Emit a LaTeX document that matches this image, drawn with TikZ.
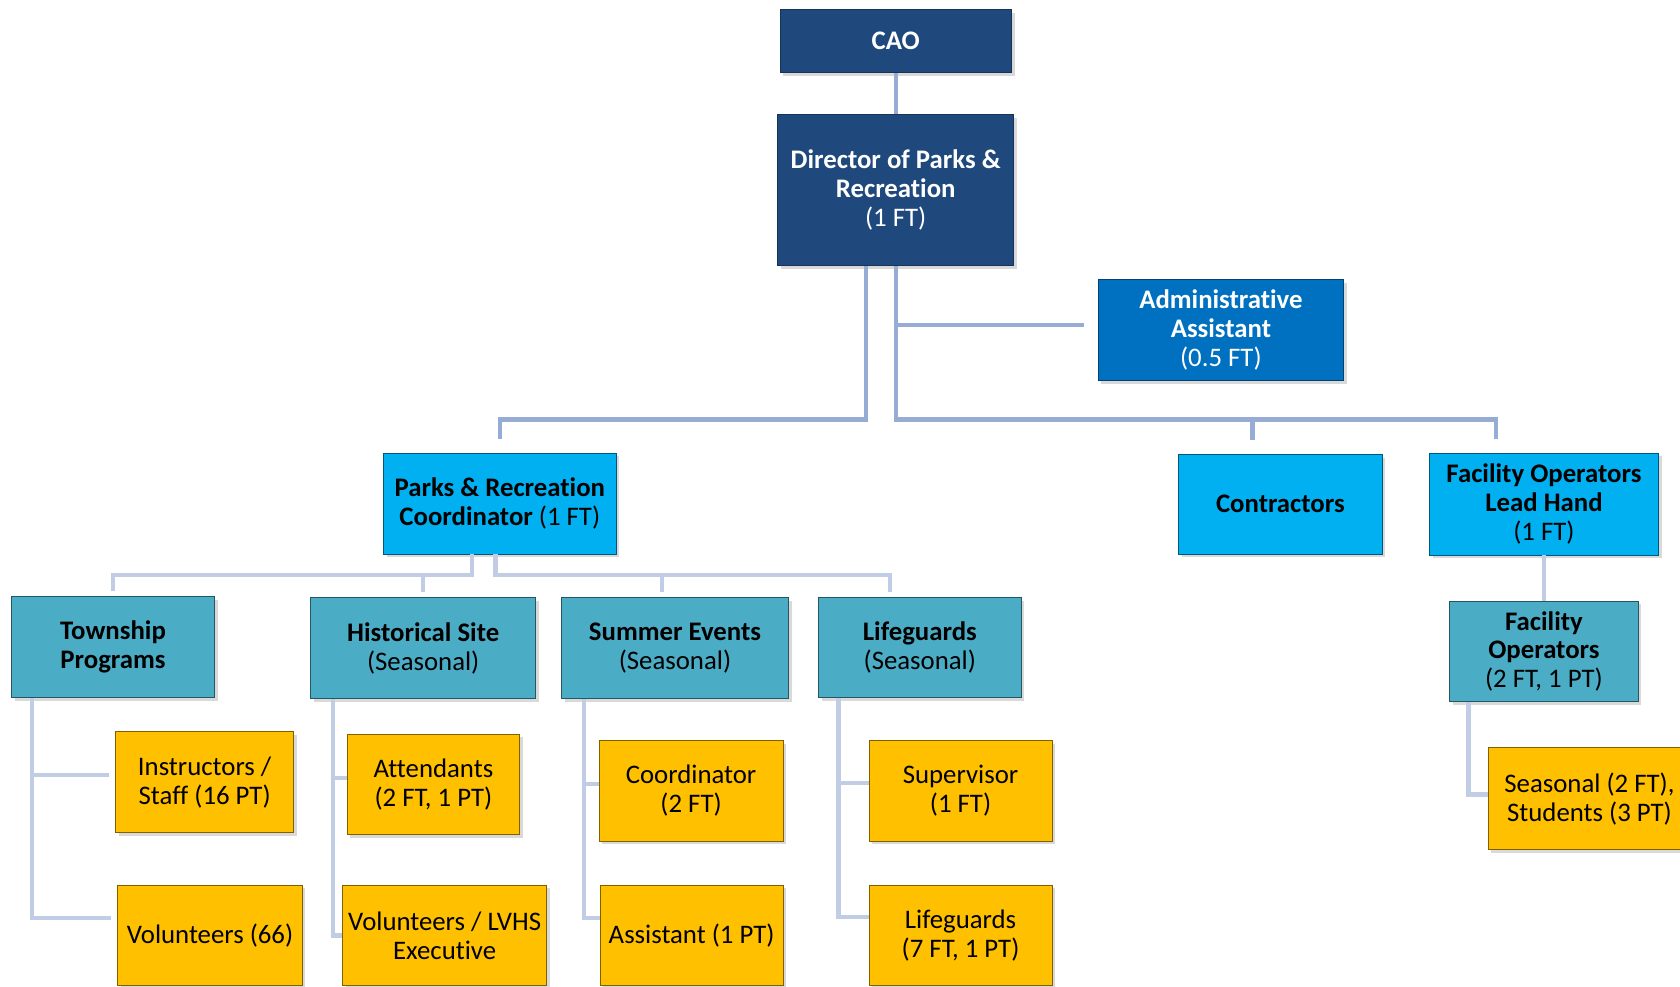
\documentclass[tikz,border=0pt]{standalone}
\usepackage{fontspec}
\setmainfont{Carlito}[Ligatures=NoCommon]
\usetikzlibrary{shadows}

\definecolor{navy}{RGB}{31,73,125}
\definecolor{adminblue}{RGB}{0,112,192}
\definecolor{skyblue}{RGB}{0,176,240}
\definecolor{teal}{RGB}{75,172,198}
\definecolor{gold}{RGB}{255,192,0}
\definecolor{linetop}{RGB}{150,172,212}
\definecolor{linelow}{RGB}{192,205,228}

\begin{document}
\begin{tikzpicture}[x=1pt, y=-1pt,
    box/.style={rectangle, inner sep=0pt, align=center, line width=0.8pt,
      drop shadow={opacity=0.3, shadow xshift=3pt, shadow yshift=-3pt}},
    headbox/.style={box, fill=navy, draw=navy!70!black, text=white},
    adminbox/.style={box, fill=adminblue, draw=adminblue!60!black, text=white},
    leadbox/.style={box, fill=skyblue, draw=skyblue!50!black},
    unitbox/.style={box, fill=teal, draw=teal!50!black},
    staffbox/.style={box, fill=gold, draw=gold!50!black},
    topline/.style={draw=linetop, line width=4pt},
    lowline/.style={draw=linelow, line width=4pt}]
    \fontsize{25}{27}\selectfont
    \useasboundingbox (0,0) rectangle (1568,921);

    % top of the chart
    \node (cao) at (836,38.5) [headbox, minimum width=216pt, minimum height=59pt] {\textbf{CAO}};
    \node (director) at (836,177.5) [headbox, minimum width=220pt, minimum height=141pt] {\textbf{Director of Parks \&}\\\textbf{Recreation}\\(1 FT)};
    \node (admin) at (1139.5,308) [adminbox, minimum width=229pt, minimum height=94pt] {\textbf{Administrative}\\\textbf{Assistant}\\(0.5 FT)};

    % second level
    \node (coordinator) at (466.5,470) [leadbox, minimum width=217pt, minimum height=94pt] {\textbf{Parks \& Recreation}\\\textbf{Coordinator} (1 FT)};
    \node (contractors) at (1195,470.5) [leadbox, minimum width=190pt, minimum height=93pt] {\textbf{Contractors}};
    \node (leadhand) at (1441,470.5) [leadbox, minimum width=214pt, minimum height=95pt] {\textbf{Facility Operators}\\\textbf{Lead Hand}\\(1 FT)};

    % units
    \node (township) at (105.5,604) [unitbox, minimum width=189pt, minimum height=94pt] {\textbf{Township}\\\textbf{Programs}};
    \node (historical) at (395,605) [unitbox, minimum width=210pt, minimum height=94pt] {\textbf{Historical Site}\\(Seasonal)};
    \node (summer) at (630,605) [unitbox, minimum width=212pt, minimum height=94pt] {\textbf{Summer Events}\\(Seasonal)};
    \node (lifeguards) at (858.5,604.5) [unitbox, minimum width=189pt, minimum height=93pt] {\textbf{Lifeguards}\\(Seasonal)};
    \node (facilityops) at (1441,608) [unitbox, minimum width=176pt, minimum height=94pt] {\textbf{Facility}\\\textbf{Operators}\\(2 FT, 1 PT)};

    % staff
    \node (instructors) at (191,730) [staffbox, minimum width=166pt, minimum height=94pt] {Instructors /\\Staff (16 PT)};
    \node (volunteers) at (196,873) [staffbox, minimum width=172pt, minimum height=94pt] {Volunteers (66)};
    \node (attendants) at (404.5,732) [staffbox, minimum width=161pt, minimum height=94pt] {Attendants\\(2 FT, 1 PT)};
    \node (lvhs) at (415,873) [staffbox, minimum width=190pt, minimum height=94pt] {Volunteers / LVHS\\Executive};
    \node (eventcoord) at (645,738) [staffbox, minimum width=172pt, minimum height=94pt] {Coordinator\\(2 FT)};
    \node (eventassist) at (645.5,873) [staffbox, minimum width=171pt, minimum height=94pt] {Assistant (1 PT)};
    \node (supervisor) at (896.5,738) [staffbox, minimum width=171pt, minimum height=94pt] {Supervisor\\(1 FT)};
    \node (guards) at (896.5,873) [staffbox, minimum width=171pt, minimum height=94pt] {Lifeguards\\(7 FT, 1 PT)};
    \node (seasonal) at (1483.5,745.5) [staffbox, minimum width=189pt, minimum height=95pt] {Seasonal (2 FT),\\Students (3 PT)};

    % connectors
    \draw [topline] (cao) -- (director);
    \draw [topline] ([xshift=-28pt]director.south) -- ++(0,143) -| ([yshift=13pt]coordinator.north);
    \draw [topline] (director.south) -- ++(0,143) -| ([xshift=-45pt,yshift=13pt]leadhand.north);
    \draw [topline] ([xshift=-26pt,yshift=13pt]contractors.north) -- ++(0,-19);
    \draw [topline] ([xshift=-13pt,yshift=5pt]admin.west) -- ++(-176,0);
    \draw [lowline] (leadhand) -- (facilityops);

    \draw [lowline] ([xshift=-26pt]coordinator.south) -- ++(0,19) -| ([yshift=5pt]township.north);
    \draw [lowline] ([xshift=-4pt]coordinator.south) -- ++(0,19) -| ([xshift=-28pt,yshift=5pt]lifeguards.north);
    \draw [lowline] ([yshift=5pt]historical.north) -- ++(0,-16);
    \draw [lowline] ([xshift=-12pt,yshift=5pt]summer.north) -- ++(0,-16);

    \draw [lowline] ([xshift=19pt]township.south west) |- ([xshift=-6pt,yshift=16pt]volunteers.west);
    \draw [lowline] ([xshift=-6pt,yshift=7pt]instructors.west) -| ([xshift=19pt]township.south west);
    \draw [lowline] ([xshift=21pt]historical.south west) |- (lvhs.west);
    \draw [lowline] ([yshift=6pt]attendants.west) -| ([xshift=21pt]historical.south west);
    \draw [lowline] ([xshift=21.5pt]summer.south west) |- ([yshift=16pt]eventassist.west);
    \draw [lowline] ([yshift=6pt]eventcoord.west) -| ([xshift=21.5pt]summer.south west);
    \draw [lowline] ([xshift=19pt]lifeguards.south west) |- ([yshift=17pt]guards.west);
    \draw [lowline] ([yshift=7pt]supervisor.west) -| ([xshift=19pt]lifeguards.south west);
    \draw [lowline] ([xshift=18pt]facilityops.south west) |- ([yshift=4pt]seasonal.west);
\end{tikzpicture}
\end{document}
